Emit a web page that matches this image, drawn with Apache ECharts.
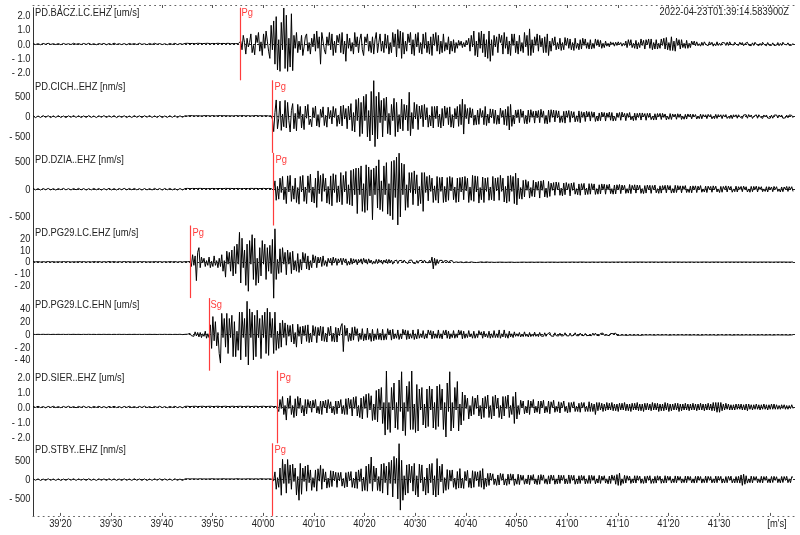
<!DOCTYPE html>
<html><head><meta charset="utf-8">
<script src="https://cdn.jsdelivr.net/npm/echarts@6/dist/echarts.min.js"></script>
<style>html,body{margin:0;padding:0;background:#fff}#c{width:800px;height:535px}</style>
</head><body><div id="c"></div>
<script>
// time in seconds after 2022-04-23T01:39:00Z
const T_MIN = 14.58;
const T_MAX = 164.97;
// two sample segments: pre-event (0.5 s) and event (0.25 s)
const PRE_T0 = 14.58, PRE_DT = 0.5;
const EVT_T0 = 44.58, EVT_DT = 0.25;

const stations = ['PD.BACZ.LC.EHZ [um/s]','PD.CICH..EHZ [nm/s]','PD.DZIA..EHZ [nm/s]','PD.PG29.LC.EHZ [um/s]','PD.PG29.LC.EHN [um/s]','PD.SIER..EHZ [um/s]','PD.STBY..EHZ [nm/s]'];
const pickNames = ['Pg','Pg','Pg','Pg','Sg','Pg','Pg'];
const pickTimes = [55.53, 61.85, 62.05, 45.67, 49.41, 62.84, 61.85];
const yLimits = [2.52, 894, 655, 30.8, 57, 2.42, 940];
const yTickValues = [[2,1,0,-1,-2],[500,0,-500],[500,0,-500],[20,10,0,-10,-20],[40,20,0,-20,-40],[2,1,0,-1,-2],[500,0,-500]];
const yDecimals = [1,0,0,0,0,1,0];
const xTickValues = [20,30,40,50,60,70,80,90,100,110,120,130,140,150,160];
const xLabelValues = [20,30,40,50,60,70,80,90,100,110,120,130,140,150];
const unitLabel = "[m's]";
const startStamp = '2022-04-23T01:39:14.583900Z';

// ---- PD.BACZ.LC.EHZ [um/s]
const baczPre = [
0.03,-0.04,0.02,-0.05,0.04,-0.02,0.05,-0.03,0.02,-0.04,0.03,-0.05,0.04,-0.03,0.02,-0.04,0.05,-0.02,0.03,-0.04,
0.04,-0.03,0.05,-0.04,0.02,-0.05,0.03,-0.02,0.04,-0.05,0.03,-0.04,0.06,-0.03,0.02,-0.04,0.03,-0.05,0.04,-0.02,
0.03,-0.04,0.05,-0.03,0.02,-0.05,0.04,-0.03,0.05,-0.02,0.03,-0.04,0.02,-0.05,0.04,-0.03,0.05,-0.04,0.03,-0.02];
const baczEvt = [
0.04,-0.03,0.05,-0.02,0.03,-0.05,0.04,-0.03,0.02,-0.04,0.05,-0.03,0.04,-0.02,0.03,-0.05,0.04,-0.03,0.05,-0.04,0.02,-0.03,0.04,-0.05,0.03,-0.02,0.05,-0.04,0.03,-0.05,0.04,-0.02,0.03,-0.04,0.05,-0.03,0.02,-0.04,0.03,-0.05,
0.03,-0.04,0.02,-0.03,0.2,-0.4,0.6,0.1,-0.7,0.4,-0.2,0.1,0.7,-0.6,-0.1,-0.75,0.6,0.1,0.8,-0.5,0.15,-0.8,0.7,-0.3,0.9,0.2,-0.5,-1.0,1.3,-0.4,1.6,-1.4,1.9,-1.8,0.3,-1.9,1.5,-0.4,2.5,-1.7,
2.0,-1.9,0.4,-1.6,2.1,-1.85,0.6,-0.3,0.8,-0.6,0.2,-0.4,0.6,-0.8,-0.2,0.5,0.7,-0.5,0.1,-0.7,0.4,-0.2,0.7,-0.5,0.9,-0.3,0.5,-1.4,0.8,0.2,-0.4,-0.7,0.5,-0.1,0.8,-0.4,0.7,-0.8,0.2,-0.6,
0.6,0.1,0.7,-0.6,0.8,-0.7,0.2,-1.2,0.7,-0.3,0.4,-0.5,0.1,-0.7,0.8,-0.2,0.5,-0.6,0.3,0.7,-0.4,-0.8,0.5,0.1,0.7,-0.5,0.2,-0.6,0.5,-0.7,0.3,0.8,-0.6,0.1,0.7,-0.5,0.2,-0.6,0.7,-0.3,
0.6,-0.7,0.1,-0.6,0.8,-0.2,0.7,-0.9,1.0,-0.3,0.9,-1.0,0.8,-0.7,0.2,-0.5,0.7,0.1,0.8,-0.7,0.3,-0.8,0.7,-0.2,0.8,-0.6,0.1,-0.7,0.7,-0.3,0.8,-0.6,0.2,-0.7,0.5,-0.8,0.7,-0.1,0.8,-0.5,
0.6,-0.7,0.2,-0.6,0.7,-0.5,0.1,-0.4,0.5,-0.7,0.2,-0.5,0.3,-0.6,0.1,-0.3,0.25,-0.1,0.2,-0.25,0.1,-0.2,0.25,-0.05,0.4,-0.5,0.6,-0.2,0.9,-0.8,0.2,-0.9,0.8,-0.3,0.9,-0.6,0.7,-0.9,0.3,-1.0,
0.9,-1.2,0.3,-0.8,0.6,-0.2,0.5,-0.6,0.7,0.1,0.6,-0.7,0.8,-0.3,0.5,-0.7,0.2,-0.8,0.7,-0.1,0.7,-0.6,0.2,-0.7,0.6,-0.5,0.1,-0.6,0.8,-0.2,0.6,-0.8,1.05,-0.8,0.3,-0.6,0.5,-0.1,0.7,-0.5,
0.6,-0.2,0.4,-0.6,0.5,-0.6,0.7,-0.8,0.2,-0.5,0.4,-0.1,0.5,-0.4,0.1,-0.35,0.4,-0.45,0.1,-0.4,0.45,-0.1,0.4,-0.3,0.35,-0.4,0.1,-0.45,0.4,-0.3,0.05,-0.4,0.3,-0.35,0.4,-0.1,0.35,-0.3,0.1,-0.35,
0.3,-0.35,0.05,-0.3,0.35,-0.1,0.3,-0.2,0.25,-0.3,0.05,-0.25,0.2,-0.15,0.05,-0.2,0.15,-0.05,0.1,-0.15,0.12,-0.1,0.15,-0.05,0.1,-0.15,0.05,-0.1,0.2,-0.25,0.3,-0.1,0.3,-0.25,0.05,-0.3,0.25,-0.35,0.1,-0.25,
0.35,-0.1,0.25,-0.35,0.3,-0.05,0.35,-0.3,0.35,-0.4,0.1,-0.35,0.3,-0.35,0.05,-0.3,0.35,-0.1,0.4,-0.35,0.45,-0.4,0.1,-0.45,0.5,-0.45,0.2,-0.5,0.4,-0.1,0.3,-0.35,0.3,-0.25,0.05,-0.3,0.25,-0.3,0.05,-0.25,
0.2,-0.05,0.2,-0.12,0.15,-0.12,0.02,-0.15,0.12,-0.1,0.15,-0.02,0.1,-0.12,0.15,-0.05,0.12,-0.15,0.02,-0.12,0.15,-0.1,0.05,-0.1,0.1,-0.02,0.08,-0.1,0.12,-0.1,0.15,-0.02,0.1,-0.08,0.12,-0.02,0.08,-0.1,0.12,-0.04,
0.1,-0.12,0.02,-0.1,0.12,-0.08,0.02,-0.12,0.08,-0.1,0.12,-0.02,0.1,-0.12,0.04,-0.1,0.12,-0.02,0.08,-0.12,0.1,-0.08,0.02,-0.1,0.08,-0.1,0.02,-0.08,0.1,-0.12,0.04,-0.1,0.12,-0.02,0.1,-0.06,0.08,-0.1,0.02,-0.08,
0.05];

// ---- PD.CICH..EHZ [nm/s]
const cichPre = [
20,-25,15,-22,25,-18,22,-25,18,-20,24,-22,16,-25,20,-18,25,-20,22,-24,
18,-22,25,-20,16,-24,22,-18,25,-22,20,-16,24,-25,18,-20,22,-24,16,-22,
25,-18,20,-24,22,-16,25,-20,18,-22,24,-25,16,-20,22,-18,25,-24,20,-16];
const cichEvt = [
20,-25,15,-22,25,-18,22,-25,18,-20,24,-22,16,-25,20,-18,25,-20,22,-24,18,-22,25,-20,16,-24,22,-18,25,-22,20,-16,24,-25,18,-20,22,-24,16,-22,
25,-18,20,-24,22,-16,25,-20,18,-22,24,-25,16,-20,22,-18,25,-24,20,-16,22,-25,18,-20,24,-22,16,-25,20,-60,-370,100,410,-300,-50,380,-340,60,-250,400,
-280,350,-100,-380,150,320,-300,80,-350,300,-50,250,-280,60,-320,260,-40,300,-200,-60,-250,220,-30,260,-230,50,-260,180,-20,240,-220,30,-260,230,-50,150,-180,250,-20,200,
-240,40,-180,260,-230,280,-60,200,-300,260,-80,320,-350,100,-380,420,-100,450,-490,350,-420,500,-100,550,-500,150,-600,620,-450,885,-740,500,-550,600,-150,400,-500,450,-100,480,
-420,80,-450,300,-100,450,-490,350,-380,50,-300,430,-350,300,-80,280,-350,600,-470,100,-300,350,-60,300,-320,260,-50,280,-250,300,-80,220,-260,40,-230,250,-280,250,-50,260,
-250,60,-280,200,-230,260,-40,220,-200,240,-260,50,-280,200,-60,250,-240,300,-200,430,-430,300,-50,200,-180,220,-30,190,-210,40,-200,160,-190,200,-20,150,-200,250,-220,60,
-160,190,-30,180,-170,160,-190,40,-180,210,-20,150,-200,180,-220,250,-330,300,-240,40,-180,160,-30,170,-150,180,-20,140,-170,30,-180,160,-140,170,-20,130,-160,140,-30,150,
-150,180,-20,140,-170,30,-180,160,-140,170,-20,160,-130,150,-30,140,-150,20,-140,130,-160,140,-20,150,-140,130,-30,120,-130,20,-120,140,-150,120,-20,110,-120,130,-10,120,
-110,120,-20,110,-120,10,-110,90,-100,110,-10,100,-110,90,-20,110,-90,100,-110,10,-100,90,-20,100,-90,110,-10,80,-100,80,-20,100,-80,10,-100,85,-90,80,-20,90,
-85,90,-10,75,-90,80,-20,85,-75,10,-85,70,-80,75,-10,80,-70,80,-20,65,-80,10,-65,75,-70,65,-10,60,-65,70,-20,65,-70,10,-65,55,-60,65,-10,60,
-55,60,-10,50,-60,10,-50,60,-55,50,-10,45,-50,55,-10,50,-55,5,-50,55,-45,50,-10,45,-50,45,-5,50,-45,5,-45,40,-50,45,-10,45,-40,45,-5,40,
-45,40,-5,45,-40,50,-10,40,-45,5,-35,45,-40,45,-5,35,-45,40,-10,40,-35,5,-40,35,-40,35,-5,40,-35,40,-10,40,-40,5,-30,35,-30,40,-5,30,
-30];

// ---- PD.DZIA..EHZ [nm/s]
const dziaPre = [
15,-12,10,-15,12,-10,14,-13,11,-15,12,-10,15,-12,10,-14,13,-11,15,-12,
12,-15,10,-13,14,-11,12,-15,10,-12,15,-13,11,-14,12,-10,15,-12,13,-11,
14,-12,10,-15,12,-13,11,-14,15,-10,12,-15,13,-11,14,-12,10,-15,12,-13];
const dziaEvt = [
11,-14,15,-12,10,-13,14,-11,12,-15,13,-10,15,-12,11,-14,12,-13,10,-15,12,-11,14,-13,10,-15,12,-11,13,-14,10,-12,15,-11,13,-12,14,-10,12,-13,
12,-11,14,-13,10,-15,12,-11,13,-14,10,-12,15,-11,13,-12,14,-10,12,-13,11,-14,15,-12,10,-13,14,-11,12,-15,-20,150,-200,50,-180,200,-60,230,-190,40,
-260,240,-50,250,-220,60,-180,200,-240,30,-270,230,-50,250,-220,40,-260,240,-60,270,-230,40,-250,200,-330,330,-80,250,-220,280,-40,200,-250,50,-270,240,-300,280,-60,260,
-240,60,-230,300,-280,250,-50,320,-260,80,-280,340,-300,360,-100,380,-440,380,-100,420,-400,100,-420,440,-380,400,-120,350,-550,380,-100,420,-340,530,-370,150,-400,420,-100,480,
-450,100,-480,500,-550,520,-150,580,-645,650,-500,470,-100,450,-380,80,-330,300,-60,300,-280,330,-80,260,-300,50,-260,300,-400,300,-60,230,-210,250,-40,200,-240,60,-200,230,
-250,210,-40,220,-240,50,-230,210,-200,230,-30,210,-190,40,-240,200,-230,210,-50,220,-190,230,-30,200,-240,40,-200,250,-220,240,-50,230,-250,30,-190,220,-240,200,-40,210,
-200,40,-190,230,-210,200,-30,210,-200,250,-40,200,-230,50,-250,240,-220,250,-40,230,-260,290,-283,200,-170,30,-180,160,-140,170,-20,140,-160,30,-130,160,-140,130,-20,140,
-160,150,-20,160,-140,20,-150,140,-130,110,-20,120,-110,130,-10,120,-110,20,-120,110,-100,120,-10,100,-120,110,-20,120,-90,10,-100,95,-110,100,-10,105,-100,20,-95,100,
-90,100,-10,95,-95,10,-90,80,-85,95,-10,90,-90,80,-10,90,-80,10,-90,75,-85,80,-10,85,-80,75,-10,70,-75,10,-70,85,-80,70,-10,80,-70,75,-10,70,
-75,10,-80,65,-70,75,-10,70,-75,65,-10,75,-65,10,-75,60,-70,65,-10,70,-65,70,-10,65,-70,10,-65,70,-60,65,-10,60,-65,60,-5,65,-60,5,-60,55,
-65,60,-5,60,-60,55,-10,65,-55,5,-50,55,-60,55,-5,50,-55,60,-10,55,-50,5,-60,50,-55,50,-5,60,-50,55,-5,50,-55,5,-45,55,-50,45,-5,50,
-45,55,-5,45,-50,5,-55,50,-45,50,-5,55,-50,45,-5,45,-45,5,-40,45,-50,45,-5,40,-45,50,-5,45,-40,5,-50,40,-45,40,-5,50,-40,45,-5,45,
-40];

// ---- PD.PG29.LC.EHZ [um/s]
const pg29zPre = [
0.2,-0.1,0.15,-0.2,0.1,-0.15,0.2,-0.1,0.15,-0.2,0.1,-0.15,0.2,-0.1,0.15,-0.2,0.1,-0.15,0.2,-0.1,
0.15,-0.2,0.1,-0.15,0.2,-0.1,0.15,-0.2,0.1,-0.15,0.2,-0.1,0.15,-0.2,0.1,-0.15,0.2,-0.1,0.15,-0.2,
0.1,-0.15,0.2,-0.1,0.15,-0.2,0.1,-0.15,0.2,-0.1,0.15,-0.2,0.1,-0.15,0.2,-0.1,0.15,-0.2,0.1,-0.15];
const pg29zEvt = [
0.1,-0.15,0.1,-0.1,0.2,-4,6,-3,5,-16,8,12,-5,4,-1,3,-4,1,-3,4,-5,0.5,-4,5,-3,1,-5,3,-4,6,-8,1,-13,9,-2,8,-8,10,-12,13,
-10,15,-2,25,-18,20,-5,10,-20,15,-25,18,-2,23,-15,20,-20,3,-18,12,-12,18,-2,15,-15,12,-8,14,-10,19,-31,28,-15,2,-10,11,-9,12,-2,8,
-11,10,-2,8,-10,9,-7,1,-8,7,-9,2,-7,8,-1,7,-6,5,-7,1,-5,6,-1,5,-5,4,-1,4,-4,5,-3,1,-4,3,-1,3,-3,4,-1,3,
-3,2.5,-0.5,3,-2.5,3,-0.5,2.5,-3,0.5,-2.5,3,-2,2.5,-0.5,2,-2.5,2,-0.5,2.5,-2,3,-0.5,2,-2,2.5,-0.5,1.5,-2,0.5,-1.5,2,-1.5,2,-0.5,1.5,-2,1.5,-0.5,2,
-1.5,2,-0.5,1.5,-2,0.5,-1,1.5,-1.5,1,-0.5,1.2,-1,1.5,-0.2,1,-1.5,1.2,-0.3,1.5,-1,0.2,-1.5,1,-1.2,1,-0.2,1.2,-1,1.5,-0.2,1,-1,1.2,-0.8,4,-6,3,-3,2,
-1.5,1.2,-0.2,1.2,-0.8,1,-0.2,0.8,-1,0.8,-0.1,1,-0.8,0.6,-0.1,0.6,-0.5,0.8,-0.1,0.5,-0.7,0.6,-0.1,0.7,-0.6,0.5,-0.1,0.6,-0.5,0.4,-0.6,0.1,-0.4,0.5,-0.1,0.4,-0.5,0.4,-0.1,0.5,
-0.4,0.5,-0.3,0.4,-0.5,0.3,-0.4,0.5,-0.3,0.4,-0.3,0.5,-0.4,0.3,-0.4,0.5,-0.3,0.4,-0.3,0.4,-0.5,0.3,-0.4,0.3,-0.4,0.5,-0.3,0.4,-0.3,0.3,-0.4,0.3,-0.3,0.4,-0.3,0.3,-0.4,0.3,-0.3,0.4,
-0.3,0.4,-0.3,0.3,-0.4,0.3,-0.3,0.4,-0.3,0.3,-0.3,0.4,-0.3,0.3,-0.4,0.3,-0.3,0.3,-0.3,0.4,-0.3,0.3,-0.3,0.2,-0.3,0.3,-0.2,0.3,-0.3,0.2,-0.3,0.3,-0.2,0.3,-0.2,0.3,-0.3,0.2,-0.3,0.2,
-0.3,0.3,-0.2,0.3,-0.3,0.2,-0.3,0.3,-0.2,0.3,-0.3,0.2,-0.2,0.3,-0.3,0.2,-0.3,0.2,-0.2,0.3,-0.3,0.2,-0.2,0.3,-0.2,0.2,-0.3,0.2,-0.2,0.3,-0.2,0.2,-0.3,0.2,-0.2,0.3,-0.2,0.2,-0.2,0.3,
-0.2,0.3,-0.2,0.2,-0.3,0.2,-0.2,0.3,-0.2,0.2,-0.2,0.3,-0.2,0.2,-0.3,0.2,-0.2,0.2,-0.2,0.3,-0.2,0.2,-0.3,0.2,-0.2,0.3,-0.2,0.2,-0.2,0.3,-0.2,0.2,-0.3,0.2,-0.2,0.2,-0.3,0.2,-0.2,0.3,
-0.2,0.2,-0.3,0.2,-0.2,0.2,-0.3,0.2,-0.2,0.3,-0.2,0.2,-0.2,0.2,-0.3,0.2,-0.2,0.2,-0.2,0.3,-0.2,0.2,-0.2,0.2,-0.3,0.2,-0.2,0.2,-0.2,0.3,-0.2,0.2,-0.2,0.2,-0.2,0.3,-0.2,0.2,-0.2,0.2,
-0.2,0.3,-0.2,0.2,-0.2,0.2,-0.3,0.2,-0.2,0.2,-0.2,0.2,-0.3,0.2,-0.2,0.2,-0.2,0.3,-0.2,0.2,-0.2,0.2,-0.2,0.2,-0.3,0.2,-0.2,0.2,-0.2,0.3,-0.2,0.2,-0.2,0.2,-0.2,0.2,-0.3,0.2,-0.2,0.2,
-0.2];

// ---- PD.PG29.LC.EHN [um/s]
const pg29nPre = [
0.1,-0.15,0.1,-0.1,0.15,-0.1,0.1,-0.15,0.1,-0.1,0.15,-0.1,0.1,-0.15,0.1,-0.1,0.15,-0.1,0.1,-0.15,
0.1,-0.1,0.15,-0.1,0.1,-0.15,0.1,-0.1,0.15,-0.1,0.1,-0.15,0.1,-0.1,0.15,-0.1,0.1,-0.15,0.1,-0.1,
0.15,-0.1,0.1,-0.15,0.1,-0.1,0.15,-0.1,0.1,-0.15,0.1,-0.1,0.15,-0.1,0.1,-0.15,0.1,-0.1,0.2,-0.3];
const pg29nEvt = [
0.1,-0.2,0.3,-0.5,1.5,-2,1,-3,4,-2.5,3,-4,3,-5,1,-3,5,-6,1,-5,15,-22,28,-10,20,-18,3,-30,-45,33,-5,25,-20,33,-30,25,-5,30,-35,20,
-35,5,-25,35,-40,35,-5,25,-35,52,-48,40,-5,35,-40,30,-35,38,-5,25,-38,30,-5,35,-30,41,-33,35,-5,25,-30,35,-25,5,-22,18,-20,22,-5,18,
-17,15,-3,14,-12,16,-15,3,-20,16,-3,12,-15,13,-2,14,-11,15,-13,2,-12,14,-2,12,-13,11,-2,13,-10,12,-11,2,-12,11,-2,13,-11,2,-12,11,
-12,10,-2,12,17,-27,14,-2,10,-11,2,-10,11,-9,12,-2,9,-11,2,-8,9,-10,1,-9,10,-8,2,-11,8,-10,1,-8,9,-8,2,-9,8,-9,1,-8,
9,-1,7,-9,8,-7,1,-6,7,-8,1,-7,8,-1,7,-8,6,-7,1,-6,7,-8,1,-7,8,-6,1,-5,6,-7,1,-6,7,-1,6,-7,5,-6,1,-6,
7,-6,1,-7,6,-1,7,-6,5,-7,1,-5,6,-6,1,-5,7,-1,6,-7,5,-6,1,-5,6,-4,1,-6,5,-6,1,-5,6,-1,4,-6,5,-4,1,-5,
5,-6,1,-5,6,-5,1,-5,7,-6,1,-4,7,-5,1,-6,5,-4,1,-5,4,-3,1,-3,3,-4,0.5,-3.5,4,-3,0.5,-4,3,-3.5,0.5,-3,3.5,-3,0.5,-3.5,
3,-2.5,0.5,-3,2.5,-3,0.5,-2.5,3,-2.5,0.5,-3,2.5,-2,0.5,-2.5,2,-2.5,0.5,-2,2.5,-2,0.5,-2.5,2,-2.5,0.5,-1.5,2.5,-2,0.5,-2,2,-1.5,0.5,-2,1.5,-2,0.5,-1.5,
1.5,-2,2,-1.5,2,-1.5,1.5,-2,1.5,-1.5,2,-1.5,1.5,-1,1.5,-2,1.5,-1.5,1,-1.5,2,-1.5,1,-1.5,1.5,-1,1.5,-1.2,1,-1.5,1.2,-1,1.5,-1.2,1,-1.3,1.2,-1,1.2,-1.5,
1,-1.2,1,-0.8,1.2,-1,1.2,-0.8,1,-1,0.8,-1.2,1,-0.8,1,-1,0.8,-1,1.2,-0.8,1,-1,0.8,-1.2,1,-0.8,1,-1,0.8,-1,1,-0.8,1.2,-1,0.8,-1,1,-0.8,1,-1.2,
1,-0.8,1.2,-1,0.8,-1,1,-1.2,0.8,-1,1,-0.8,1.2,-1,0.8,-1,1,-0.8,1,-1.2,0.8,-1,1,-0.8,1.2,-1,0.8,-1,1,-0.8,1,-1,0.8,-1.2,1,-0.8,1,-1,0.8,-1,
0.8,-1,1,-0.8,1,-1,0.8,-1,1.2,-0.8,1,-1,0.8,-1,1,-0.8,1,-1,0.8,-1,1,-0.8,1,-1,0.8,-1,1,-0.8,1,-0.8,1,-1,0.8,-0.8,1,-1,0.8,-1,0.8,-0.8,
-0.5];

// ---- PD.SIER..EHZ [um/s]
const sierPre = [
0.04,-0.03,0.05,-0.04,0.03,-0.05,0.04,-0.03,0.05,-0.04,0.03,-0.05,0.04,-0.03,0.05,-0.04,0.03,-0.05,0.04,-0.03,
0.05,-0.04,0.03,-0.05,0.04,-0.03,0.05,-0.04,0.03,-0.05,0.04,-0.03,0.05,-0.04,0.03,-0.05,0.04,-0.03,0.05,-0.04,
0.03,-0.05,0.04,-0.03,0.05,-0.04,0.03,-0.05,0.04,-0.03,0.05,-0.04,0.03,-0.05,0.04,-0.03,0.05,-0.04,0.03,-0.05];
const sierEvt = [
0.04,-0.03,0.05,-0.04,0.03,-0.05,0.04,-0.03,0.05,-0.04,0.03,-0.05,0.04,-0.03,0.05,-0.04,0.03,-0.05,0.04,-0.03,0.05,-0.04,0.03,-0.05,0.04,-0.03,0.05,-0.04,0.03,-0.05,0.04,-0.03,0.05,-0.04,0.03,-0.05,0.04,-0.03,0.05,-0.04,
0.03,-0.05,0.04,-0.03,0.05,-0.04,0.03,-0.05,0.04,-0.03,0.05,-0.04,0.03,-0.05,0.04,-0.03,0.05,-0.04,0.03,-0.05,0.04,-0.03,0.05,-0.04,0.03,-0.05,0.04,-0.03,0.05,-0.04,0.03,-0.05,0.04,0.05,-0.3,0.5,-0.1,0.7,-0.5,0.1,
-0.87,0.6,-0.1,0.75,-0.5,0.1,-0.7,0.55,-0.6,0.7,-0.1,0.6,-0.4,0.1,-0.6,0.5,-0.45,0.5,-0.05,0.4,-0.35,0.45,-0.05,0.5,-0.4,0.05,-0.45,0.4,-0.5,0.4,-0.05,0.45,-0.4,0.5,-0.1,0.35,-0.4,0.05,-0.5,0.4,
-0.45,0.4,-0.05,0.5,-0.45,0.1,-0.5,0.55,-0.5,0.6,-0.1,0.5,-0.6,0.65,-0.1,0.7,-0.6,0.1,-0.7,0.6,-0.8,0.7,-0.1,0.85,-0.7,0.9,-0.2,0.75,-0.9,0.2,-0.85,1.1,-1.0,1.2,-0.2,1.3,-1.1,0.3,-1.87,2.4,
-1.5,0.3,-1.7,1.3,-0.2,1.6,-1.4,0.3,-1.5,1.8,-0.3,2.35,-1.6,0.3,-1.9,1.4,-0.3,1.7,-1.5,2.4,-1.5,0.2,-1.7,1.5,-1.6,1.2,-0.2,1.3,-1.2,0.2,-1.4,1.2,-1.3,1.4,-0.2,1.2,-1.4,0.3,-1.5,1.4,
-1.3,1.5,-0.2,1.2,-1.5,0.3,-2.0,1.6,-0.3,2.35,-1.6,0.3,-1.4,1.3,-0.2,1.7,-1.6,0.2,-1.2,1.0,-0.9,0.8,-0.1,0.6,-0.8,0.1,-0.6,0.7,-0.5,0.6,-0.1,0.8,-0.6,0.1,-0.8,0.6,-0.7,0.7,-0.1,0.8,
-0.7,0.1,-0.8,0.7,-0.6,0.8,-0.1,0.6,-0.7,0.1,-0.8,0.7,-0.6,0.7,-0.1,0.8,-0.7,0.1,-0.5,0.7,-1.1,1.0,-0.8,0.1,-0.5,0.45,-0.05,0.4,-0.45,0.05,-0.4,0.45,-0.5,0.4,-0.05,0.5,-0.4,0.05,-0.35,0.4,
-0.45,0.4,-0.05,0.45,-0.4,0.05,-0.35,0.4,-0.45,0.35,-0.05,0.45,-0.35,0.05,-0.3,0.35,-0.4,0.3,-0.05,0.4,-0.3,0.05,-0.4,0.3,-0.35,0.3,-0.05,0.35,-0.3,0.05,-0.3,0.25,-0.35,0.3,-0.05,0.3,-0.3,0.05,-0.3,0.35,
-0.3,0.25,-0.3,0.2,-0.5,0.3,-0.25,0.3,-0.2,0.25,-0.3,0.2,-0.25,0.3,-0.2,0.25,-0.2,0.3,-0.25,0.2,-0.25,0.2,-0.3,0.25,-0.2,0.25,-0.2,0.3,-0.25,0.2,-0.25,0.2,-0.3,0.25,-0.2,0.25,-0.2,0.3,-0.25,0.2,
-0.25,0.2,-0.3,0.25,-0.2,0.25,-0.2,0.2,-0.25,0.3,-0.2,0.25,-0.2,0.25,-0.3,0.2,-0.25,0.2,-0.25,0.3,-0.2,0.25,-0.3,0.2,-0.25,0.2,-0.2,0.25,-0.2,0.25,-0.3,0.2,-0.25,0.2,-0.2,0.25,-0.2,0.2,-0.25,0.2,
-0.2,0.25,-0.2,0.2,-0.25,0.2,-0.2,0.25,-0.2,0.2,-0.25,0.2,-0.2,0.25,-0.2,0.2,-0.25,0.3,-0.25,0.3,-0.35,0.3,-0.35,0.3,-0.25,0.2,-0.2,0.25,-0.15,0.2,-0.2,0.15,-0.2,0.15,-0.2,0.2,-0.15,0.2,-0.15,0.2,
-0.2,0.15,-0.2,0.2,-0.25,0.2,-0.15,0.15,-0.2,0.15,-0.15,0.2,-0.15,0.15,-0.2,0.15,-0.15,0.2,-0.15,0.15,-0.2,0.15,-0.15,0.2,-0.15,0.2,-0.15,0.15,-0.15,0.1,-0.15,0.15,-0.1,0.15,-0.15,0.1,-0.15,0.1,-0.1,0.15,
-0.1];

// ---- PD.STBY..EHZ [nm/s]
const stbyPre = [
20,-15,18,-22,15,-20,22,-18,16,-20,18,-22,15,-18,20,-16,22,-20,18,-15,
16,-20,22,-18,15,-22,20,-16,18,-20,22,-15,18,-20,16,-22,20,-18,15,-20,
22,-18,16,-20,18,-22,15,-18,20,-16,22,-20,18,-15,16,-20,22,-18,15,-22];
const stbyEvt = [
18,-20,22,-15,16,-18,20,-22,18,-16,15,-20,22,-18,16,-20,18,-22,15,-18,20,-16,22,-18,15,-20,18,-22,16,-20,22,-15,18,-20,16,-22,20,-18,15,-20,
20,-16,22,-18,15,-20,18,-22,16,-20,22,-15,18,-20,16,-22,20,-18,15,-20,22,-16,18,-20,15,-22,20,-18,16,-20,-30,200,-250,50,-200,300,-405,525,-100,400,
-350,520,-100,380,-250,400,-50,300,-400,80,-535,420,-380,300,-50,350,-300,380,-80,250,-280,50,-200,250,-300,280,-40,370,-250,280,-60,200,-220,40,-200,230,-180,220,-30,190,
-200,180,-30,190,-170,30,-210,180,-190,200,-30,210,-200,40,-220,200,-230,250,-50,280,-300,60,-280,350,-300,400,-100,585,-300,350,-60,300,-280,80,-300,400,-350,420,-80,350,
-400,450,-100,500,-450,600,-100,550,-500,930,-790,500,-535,100,-400,380,-350,400,-80,350,-300,420,-400,100,-450,400,-80,380,-300,60,-400,300,-350,400,-80,420,-400,100,-450,545,
-400,350,-60,400,-350,50,-280,260,-250,240,-40,250,-200,40,-250,210,-220,285,-220,40,-230,210,-30,240,-200,40,-220,230,-200,210,-30,200,-180,230,-200,285,-250,40,-180,160,
-150,170,-20,150,-130,20,-150,120,-140,160,-20,150,-140,20,-150,140,-120,150,-20,140,-150,20,-120,140,-130,120,-20,110,-120,20,-110,120,-130,110,-20,130,-110,20,-130,110,
-120,130,-20,120,-100,20,-120,100,-110,120,-20,110,-120,20,-110,120,-100,110,-20,110,-110,20,-110,120,-100,110,-20,110,-120,20,-110,100,-100,110,-20,100,-110,20,-100,110,
-100,110,-20,100,-110,20,-90,110,-100,90,-20,100,-90,20,-110,90,-100,120,-20,100,-120,130,-150,170,-150,20,-100,110,-90,100,-20,90,-100,20,-85,100,-90,100,-20,90,
-95,20,-100,85,-90,95,-20,100,-100,20,-95,85,-90,100,-20,90,-95,20,-90,100,-85,90,-20,85,-90,20,-80,95,-85,90,-20,80,-90,20,-80,90,-80,90,-20,80,
-85,20,-90,85,-80,90,-20,80,-90,20,-80,90,-80,85,-20,80,-85,20,-85,90,-80,85,-20,85,-90,20,-85,80,-80,85,-20,90,-85,20,-85,80,-80,85,-90,120,
-150,140,-120,100,-90,20,-80,90,-85,80,-20,80,-80,20,-80,85,-85,80,-20,85,-80,20,-85,80,-75,85,-20,75,-80,20,-85,80,-75,80,-20,85,-80,20,-80,75,
60];

const tracesPre = [baczPre, cichPre, dziaPre, pg29zPre, pg29nPre, sierPre, stbyPre];
const tracesEvt = [baczEvt, cichEvt, dziaEvt, pg29zEvt, pg29nEvt, sierEvt, stbyEvt];

// ---------- layout ----------
const FONT = "'Liberation Sans', Arial, sans-serif";
const FONT_PX = 11;
const NARROW = 0.85;
const TEXT = '#222';
const PICK = '#ff3c3c';
const LEFT = 33, RIGHT = 5, TOP0 = 7.7, PH = 72.6;

const chart = echarts.init(document.getElementById('c'), null, {renderer: 'canvas'});

function fmtY(k, v) { const s = Math.abs(v).toFixed(yDecimals[k]); return v < 0 ? '- ' + s : s; }
function fmtX(t) {
  const m = 39 + Math.floor(t / 60);
  const s = Math.round(t - Math.floor(t / 60) * 60);
  return m + "'" + String(s).padStart(2, '0');
}

const grids = [], xAxes = [], yAxes = [], series = [];
tracesEvt.forEach((evt, k) => {
  const pre = tracesPre[k];
  const data = pre.map((v, i) => [PRE_T0 + i * PRE_DT, v])
    .concat(evt.map((v, i) => [EVT_T0 + i * EVT_DT, v]));
  grids.push({left: LEFT, right: RIGHT, top: TOP0 + PH * k, height: PH});
  const isTop = k === 0, isBottom = k === tracesEvt.length - 1;
  xAxes.push({
    gridIndex: k, type: 'value', min: T_MIN, max: T_MAX,
    show: isTop || isBottom,
    position: isTop ? 'top' : 'bottom',
    offset: isTop ? 2.7 : 0,
    axisLine: {show: true, onZero: false, lineStyle: {color: '#666', width: 1, type: [1, 4.067]}},
    axisTick: {show: true, inside: true, length: 3, customValues: xTickValues, lineStyle: {color: '#555'}},
    axisLabel: {show: false},
    splitLine: {show: false}
  });
  yAxes.push({
    gridIndex: k, type: 'value', min: -yLimits[k], max: yLimits[k],
    axisLine: {show: true, onZero: false, lineStyle: {color: '#333', width: 1}},
    axisTick: {show: false}, splitLine: {show: false}, axisLabel: {show: false}
  });
  series.push({
    type: 'line', xAxisIndex: k, yAxisIndex: k, data: data,
    showSymbol: false, symbol: 'none', sampling: null,
    lineStyle: {color: '#000', width: 1},
    animation: false, silent: true,
    markLine: {
      silent: true, symbol: ['none', 'none'], animation: false, label: {show: false},
      data: [
        {yAxis: 0, lineStyle: {color: '#222', width: 1, type: [2, 2]}},
        {xAxis: pickTimes[k], lineStyle: {color: PICK, width: 1.2, type: 'solid'}}
      ]
    }
  });
});

chart.setOption({backgroundColor: '#fff', animation: false, grid: grids, xAxis: xAxes, yAxis: yAxes, series: series});

// all texts: Liberation Sans horizontally condensed (narrow look of the original)
function txt(x, y, s, align, color) {
  return {type: 'text', x: x, y: y, scaleX: NARROW, silent: true,
    style: {x: 0, y: 0, text: s, font: FONT_PX + 'px ' + FONT, fill: color || TEXT,
      textAlign: align, textVerticalAlign: 'middle'}};
}
const g = [];
tracesEvt.forEach((evt, k) => {
  const top = TOP0 + PH * k;
  const ty = k === 0 ? 13 : top + 7;
  g.push(txt(35, ty, stations[k], 'left'));
  const p = chart.convertToPixel({gridIndex: k}, [pickTimes[k], 0]);
  g.push(txt(Math.round(p[0]) + 1.5, ty, pickNames[k], 'left', PICK));
  yTickValues[k].forEach(v => {
    const q = chart.convertToPixel({gridIndex: k}, [T_MIN, v]);
    g.push(txt(30.5, q[1] + 0.5, fmtY(k, v), 'right'));
  });
});
const kb = tracesEvt.length - 1;
xLabelValues.forEach(v => {
  const q = chart.convertToPixel({gridIndex: kb}, [v, 0]);
  g.push(txt(q[0], 523.5, fmtX(v), 'center'));
});
g.push(txt(777, 523.5, unitLabel, 'center'));
g.push(txt(789, 12, startStamp, 'right'));
chart.setOption({graphic: g});
</script></body></html>
